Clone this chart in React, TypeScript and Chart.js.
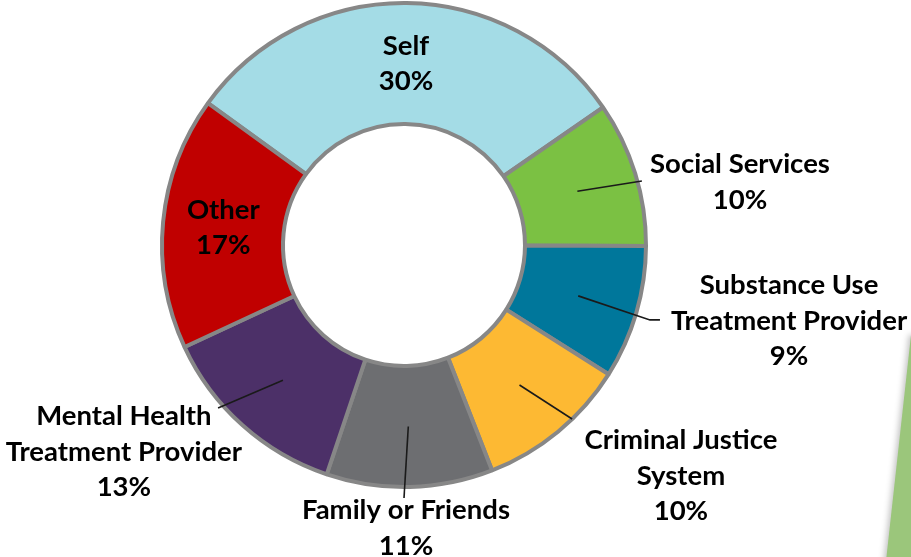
import React, { useEffect, useRef } from 'react';
import { Chart, registerables } from 'chart.js';

Chart.register(...registerables);

// ---- data ----
const categories = [
  'Self',
  'Social Services',
  'Substance Use Treatment Provider',
  'Criminal Justice System',
  'Family or Friends',
  'Mental Health Treatment Provider',
  'Other',
];
const labelLines = [
  ['Self'],
  ['Social Services'],
  ['Substance Use', 'Treatment Provider'],
  ['Criminal Justice', 'System'],
  ['Family or Friends'],
  ['Mental Health', 'Treatment Provider'],
  ['Other'],
];
const shares = [30.4, 9.7, 8.9, 10.1, 11.1, 12.9, 16.9];
const percentLabels = ['30%', '10%', '9%', '10%', '11%', '13%', '17%'];
const colors = ['#A4DCE6', '#7BC143', '#00779B', '#FDB933', '#6D6E71', '#4C3068', '#C00000'];

// ---- label layout (multiples of outer radius, relative to centre) ----
type Place = { inside: boolean; block?: [number, number]; path?: [number, number][] };
const placements: Place[] = [
  { inside: true },
  { inside: false, block: [1.377, -0.258], path: [[0.975, -0.262]] },
  { inside: false, block: [1.578, 0.311], path: [[1.008, 0.307], [1.049, 0.307]] },
  { inside: false, block: [1.135, 0.947], path: [[0.689, 0.713]] },
  { inside: false, block: [0.008, 1.16], path: [[0, 1.037]] },
  { inside: false, block: [-1.148, 0.848], path: [[-0.762, 0.668]] },
  { inside: true },
];

const FONT_SIZE = 27.5;
const LINE_H = 35.5;

const decoPlugin = {
  id: 'deco',
  beforeDraw(chart: any) {
    const ctx = chart.ctx;
    ctx.save();
    ctx.shadowColor = 'rgba(0,0,0,0.25)';
    ctx.shadowBlur = 6;
    ctx.shadowOffsetX = -2;
    ctx.fillStyle = '#9BC67B';
    ctx.beginPath();
    ctx.moveTo(911, 335);
    ctx.lineTo(930, 335);
    ctx.lineTo(930, 570);
    ctx.lineTo(885, 570);
    ctx.closePath();
    ctx.fill();
    ctx.restore();
  },
};

const labelPlugin = {
  id: 'sliceLabels',
  afterDraw(chart: any) {
    const ctx = chart.ctx;
    const meta = chart.getDatasetMeta(0);
    const a0 = meta.data[0];
    const { x: cx, y: cy, outerRadius } = a0.getProps(['x', 'y', 'outerRadius'], true);
    const R = outerRadius + 2;
    ctx.save();
    meta.data.forEach((arc: any, i: number) => {
      const p = placements[i];
      const mid = arc.tooltipPosition(true);
      let bx: number, by: number;
      if (p.inside) {
        bx = mid.x;
        by = mid.y;
      } else {
        bx = cx + p.block![0] * R;
        by = cy + p.block![1] * R;
        ctx.strokeStyle = '#1a1a1a';
        ctx.lineWidth = 1.6;
        ctx.beginPath();
        ctx.moveTo(mid.x, mid.y);
        p.path!.forEach(([fx, fy]) => ctx.lineTo(cx + fx * R, cy + fy * R));
        ctx.stroke();
      }
      const lines = [...labelLines[i], percentLabels[i]];
      ctx.fillStyle = '#000';
      ctx.font = `bold ${FONT_SIZE}px Lato`;
      ctx.textAlign = 'center';
      ctx.textBaseline = 'middle';
      const y0 = by - ((lines.length - 1) * LINE_H) / 2;
      lines.forEach((t, k) => ctx.fillText(t, bx, y0 + k * LINE_H));
    });
    ctx.restore();
  },
};

export default function App() {
  const ref = useRef<HTMLCanvasElement | null>(null);
  useEffect(() => {
    document.body.style.margin = '0';
    const chart = new Chart(ref.current!, {
      type: 'doughnut',
      data: {
        labels: categories,
        datasets: [
          {
            data: shares,
            backgroundColor: colors,
            borderColor: '#878787',
            borderWidth: 4,
            hoverBorderWidth: 4,
            hoverOffset: 0,
          },
        ],
      },
      options: {
        responsive: false,
        animation: false,
        cutout: '50%',
        rotation: -54.1,
        layout: { padding: { left: 160, right: 263, top: 1, bottom: 68 } },
        plugins: { legend: { display: false }, tooltip: { enabled: false } },
        events: [],
      },
      plugins: [decoPlugin, labelPlugin],
    });
    return () => chart.destroy();
  }, []);
  return (
    <div style={{ position: 'fixed', left: 0, top: 0, width: 911, height: 557, background: '#fff' }}>
      <canvas ref={ref} width={911} height={557} style={{ display: 'block' }} />
    </div>
  );
}
